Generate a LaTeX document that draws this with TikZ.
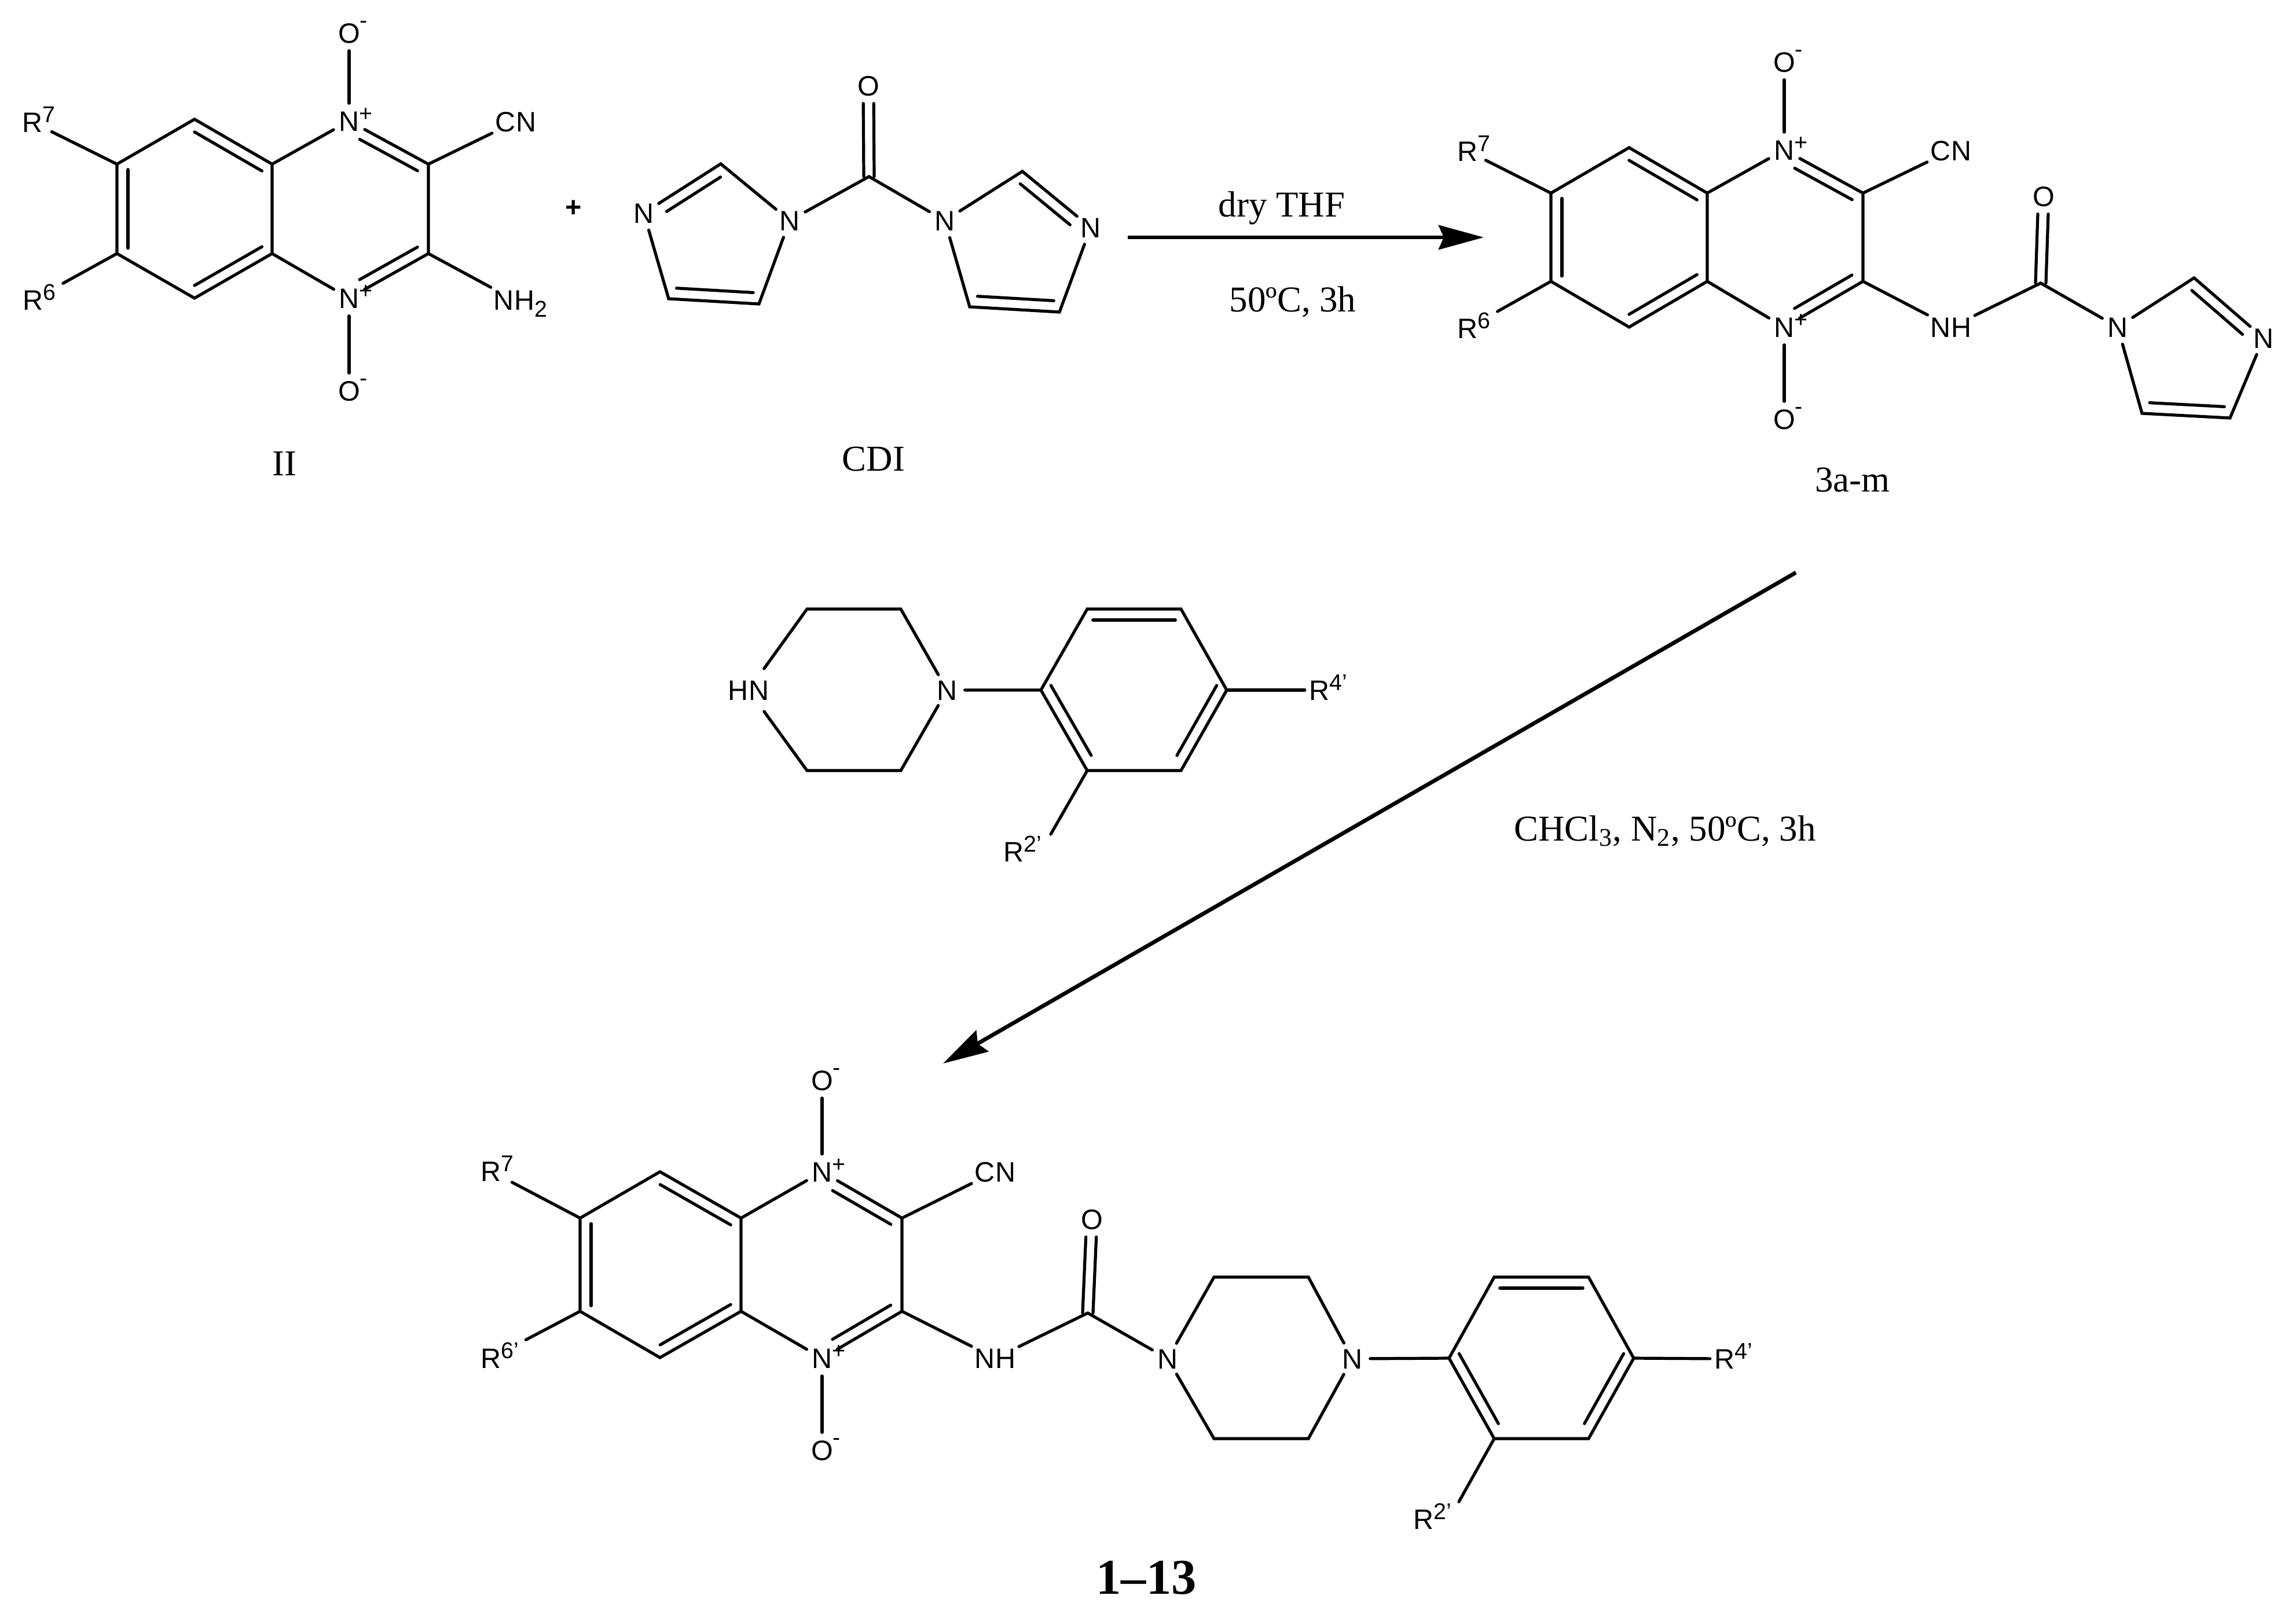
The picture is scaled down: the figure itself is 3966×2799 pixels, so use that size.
\documentclass[tikz,border=0pt]{standalone}
\usepackage{fontspec}
\setmainfont{Liberation Sans}
\newfontfamily\capfont{Liberation Serif}
\usetikzlibrary{arrows.meta,calc}

\newcommand{\chemsup}[1]{\rlap{\raisebox{4.8pt}{\fontsize{11.2}{12}\selectfont #1}}}
\newcommand{\chemsub}[1]{\rlap{\raisebox{-3.5pt}{\fontsize{11.2}{12}\selectfont #1}}}
\newcommand{\inbond}[4]{\draw[bond] ($(#1)!#3!(#2)!.19cm!-90:(#2)$) -- ($(#1)!#4!(#2)!.19cm!-90:(#2)$);}

\tikzset{
	atom/.style={circle,inner sep=0pt,minimum size=.6cm,text height=9.8pt,text depth=0pt,font=\fontsize{13.8}{15}\selectfont},
	atomw/.style={atom,minimum size=.9cm},
	rgroup/.style={atom,minimum size=.4cm},
	bond/.style={line width=.052cm,line cap=round},
	twinl/.style={bond,transform canvas={xshift=-.09cm}},
	twinr/.style={bond,transform canvas={xshift=.09cm}},
	reaction/.style={line width=.068cm,-{Stealth[length=.78cm,width=.42cm,inset=.09cm]}},
	caption/.style={anchor=base,inner sep=0pt,font=\capfont\fontsize{17.9}{20}\selectfont},
}

\begin{document}
\begin{tikzpicture}[x=.01cm,y=-.01cm]
\useasboundingbox (0,0) rectangle (3966,2799);

% II
\path (336,206) coordinate (ia) (202,283.5) coordinate (ib) (202,438) coordinate (ic) (336,515) coordinate (id)
	(470,283.5) coordinate (ie) (470,438) coordinate (if) (740,283.5) coordinate (ig) (740,438) coordinate (ih);
\node[atom] (in1) at (603,209) {N\chemsup{+}};
\node[atom] (in2) at (603,515) {N\chemsup{+}};
\node[atom] (io1) at (603,57) {O\chemsup{\raisebox{2.5pt}{-}}};
\node[atom] (io2) at (603,675) {O\chemsup{\raisebox{2.5pt}{-}}};
\node[atomw] (icn) at (891,210) {CN};
\node[atomw] (inh) at (888,518) {NH\chemsub{2}};
\node[rgroup] (ir7) at (56,211) {R\chemsup{7}};
\node[rgroup] (ir6) at (57,518) {R\chemsup{6}};
\draw[bond] (ie) -- (ia) -- (ib) -- (ic) -- (id) -- (if) -- cycle;
\draw[bond] (ie) -- (in1) -- (ig) -- (ih) -- (in2) -- (if);
\draw[bond] (in1) -- (io1);
\draw[bond] (in2) -- (io2);
\draw[bond] (ig) -- (icn);
\draw[bond] (ih) -- (inh);
\draw[bond,shorten >=.12cm] (ib) -- (ir7);
\draw[bond,shorten >=.34cm] (ic) -- (ir6);
\inbond{ia}{ie}{.07}{.94}
\inbond{if}{id}{.06}{.93}
\inbond{ic}{ib}{.06}{.94}
\inbond{in1}{ig}{.2}{.93}
\inbond{ih}{in2}{.07}{.8}
\node[caption] (lbii) at (491,821) {II};
\node[atom,font=\fontsize{13.8}{15}\selectfont\bfseries] (plus) at (991,357) {+};

% CDI
\path (1501,305) coordinate (cc) (1245,283) coordinate (c2) (1311,525) coordinate (c5) (1155,516) coordinate (c4)
	(1766,296) coordinate (d2) (1830,539) coordinate (d4) (1675,530) coordinate (d5);
\node[atom] (co) at (1500,148) {O};
\node[atom] (cn1) at (1364,381) {N};
\node[atom] (cn3) at (1112,368) {N};
\node[atom] (dn1) at (1632,381) {N};
\node[atom] (dn3) at (1884,393) {N};
\draw[twinl] (cc) -- (co);
\draw[twinr] (cc) -- (co);
\draw[bond] (cn1) -- (cc) -- (dn1);
\draw[bond] (cn1) -- (c2) -- (cn3) -- (c4) -- (c5) -- (cn1);
\draw[bond] (dn1) -- (d2) -- (dn3) -- (d4) -- (d5) -- (dn1);
\inbond{cn3}{c2}{.22}{.92}
\inbond{c5}{c4}{.07}{.92}
\inbond{d2}{dn3}{.07}{.8}
\inbond{d4}{d5}{.07}{.92}
\node[caption] (lbcdi) at (1509,813) {CDI};

% first arrow
\coordinate (ar1) at (1948,410);
\coordinate (ar2) at (2563,410);
\draw[reaction] (ar1) -- (ar2);
\node[caption] (lbthf) at (2214,374) {dry THF};
\node[caption] (lbtemp) at (2233,538) {50ºC, 3h};

% 3a-m
\path (2814,255) coordinate (ma) (2679,333.5) coordinate (mb) (2679,486) coordinate (mc) (2814,565) coordinate (md)
	(2949,333.5) coordinate (me) (2949,486) coordinate (mf) (3218,333.5) coordinate (mg) (3218,486) coordinate (mh)
	(3525,489) coordinate (mk) (3790,480) coordinate (m2) (3852,722) coordinate (m4) (3700,714) coordinate (m5);
\node[atom] (mn1) at (3082,259) {N\chemsup{+}};
\node[atom] (mn2) at (3082,565) {N\chemsup{+}};
\node[atom] (mo1) at (3082,107) {O\chemsup{\raisebox{2.5pt}{-}}};
\node[atom] (mo2) at (3082,724) {O\chemsup{\raisebox{2.5pt}{-}}};
\node[atomw] (mcn) at (3370,260) {CN};
\node[atomw] (mnh) at (3370,565) {NH};
\node[rgroup] (mr7) at (2535,261) {R\chemsup{7}};
\node[rgroup] (mr6) at (2535,567) {R\chemsup{6}};
\node[atom] (mo) at (3530,339) {O};
\node[atom] (mi1) at (3658,565) {N};
\node[atom] (mi3) at (3910,584) {N};
\draw[bond] (me) -- (ma) -- (mb) -- (mc) -- (md) -- (mf) -- cycle;
\draw[bond] (me) -- (mn1) -- (mg) -- (mh) -- (mn2) -- (mf);
\draw[bond] (mn1) -- (mo1);
\draw[bond] (mn2) -- (mo2);
\draw[bond] (mg) -- (mcn);
\draw[bond] (mh) -- (mnh) -- (mk) -- (mi1);
\draw[twinl] (mk) -- (mo);
\draw[twinr] (mk) -- (mo);
\draw[bond] (mi1) -- (m2) -- (mi3) -- (m4) -- (m5) -- (mi1);
\draw[bond,shorten >=.1cm] (mb) -- (mr7);
\draw[bond,shorten >=.34cm] (mc) -- (mr6);
\inbond{ma}{me}{.07}{.94}
\inbond{mf}{md}{.06}{.93}
\inbond{mc}{mb}{.06}{.94}
\inbond{mn1}{mg}{.2}{.93}
\inbond{mh}{mn2}{.07}{.8}
\inbond{m2}{mi3}{.07}{.8}
\inbond{m4}{m5}{.07}{.92}
\node[caption] (lbm) at (3200,849) {3a-m};

% second arrow
\coordinate (br1) at (3102,989);
\coordinate (br2) at (1629,1837);
\draw[reaction] (br1) -- (br2);
\node[caption] (lbcond) at (2876,1452) {CHCl\textsubscript{3}, N\textsubscript{2}, 50ºC, 3h};

% piperazine
\path (1394,1052) coordinate (p1) (1556,1052) coordinate (p2) (1394,1331) coordinate (p3) (1556,1331) coordinate (p4)
	(1798,1192) coordinate (b1) (1878,1052) coordinate (b2) (2040,1052) coordinate (b3) (2119,1192) coordinate (b4)
	(2040,1331) coordinate (b5) (1878,1331) coordinate (b6) (1815,1441) coordinate (pe2);
\node[atomw] (phn) at (1293,1192) {HN};
\node[atom] (pn) at (1636,1192) {N};
\node[rgroup] (pr4) at (2279,1192) {R\chemsup{4'}};
\node[rgroup] (pr2) at (1751,1471) {R\chemsup{2'}};
\draw[bond] (phn) -- (p1) -- (p2) -- (pn) -- (p4) -- (p3) -- (phn);
\draw[bond] (pn) -- (b1) -- (b2) -- (b3) -- (b4) -- (b5) -- (b6) -- (b1);
\draw[bond] (b4) -- (pr4);
\draw[bond] (b6) -- (pe2);
\inbond{b2}{b3}{.06}{.94}
\inbond{b4}{b5}{.01}{.88}
\inbond{b6}{b1}{.12}{.99}

% 1-13
\path (1140,2024) coordinate (fa) (1002,2104) coordinate (fb) (1002,2265) coordinate (fc) (1140,2345) coordinate (fd)
	(1280,2104) coordinate (fe) (1280,2265) coordinate (ff) (1558,2104) coordinate (fg) (1558,2265) coordinate (fh)
	(1879,2268) coordinate (fk)
	(2097,2206) coordinate (f1) (2260,2206) coordinate (f2) (2097,2485) coordinate (f3) (2260,2485) coordinate (f4)
	(2503,2346) coordinate (g1) (2581,2206) coordinate (g2) (2744,2206) coordinate (g3) (2822,2346) coordinate (g4)
	(2744,2485) coordinate (g5) (2581,2485) coordinate (g6) (2520,2594) coordinate (ge2);
\node[atom] (fn1) at (1420,2024) {N\chemsup{+}};
\node[atom] (fn2) at (1420,2346) {N\chemsup{+}};
\node[atom] (fo1) at (1420,1866) {O\chemsup{\raisebox{2.5pt}{-}}};
\node[atom] (fo2) at (1420,2505) {O\chemsup{\raisebox{2.5pt}{-}}};
\node[atomw] (fcn) at (1719,2024) {CN};
\node[atomw] (fnh) at (1719,2346) {NH};
\node[rgroup] (fr7) at (848,2023) {R\chemsup{7}};
\node[rgroup] (fr6) at (848,2346) {R\chemsup{6'}};
\node[atom] (fo) at (1886,2106) {O};
\node[atom] (fp1) at (2017,2347) {N};
\node[atom] (fp2) at (2336,2347) {N};
\node[rgroup] (fr4) at (2979,2347) {R\chemsup{4'}};
\node[rgroup] (fr2) at (2459,2624) {R\chemsup{2'}};
\draw[bond] (fe) -- (fa) -- (fb) -- (fc) -- (fd) -- (ff) -- cycle;
\draw[bond] (fe) -- (fn1) -- (fg) -- (fh) -- (fn2) -- (ff);
\draw[bond] (fn1) -- (fo1);
\draw[bond] (fn2) -- (fo2);
\draw[bond] (fg) -- (fcn);
\draw[bond] (fh) -- (fnh) -- (fk) -- (fp1);
\draw[twinl] (fk) -- (fo);
\draw[twinr] (fk) -- (fo);
\draw[bond] (fp1) -- (f1) -- (f2) -- (fp2) -- (f4) -- (f3) -- (fp1);
\draw[bond] (fp2) -- (g1) -- (g2) -- (g3) -- (g4) -- (g5) -- (g6) -- (g1);
\draw[bond] (g4) -- (fr4);
\draw[bond] (g6) -- (ge2);
\draw[bond,shorten >=.16cm] (fb) -- (fr7);
\draw[bond,shorten >=.43cm] (fc) -- (fr6);
\inbond{fa}{fe}{.07}{.94}
\inbond{ff}{fd}{.06}{.93}
\inbond{fc}{fb}{.06}{.94}
\inbond{fn1}{fg}{.2}{.93}
\inbond{fh}{fn2}{.07}{.8}
\inbond{g2}{g3}{.06}{.94}
\inbond{g4}{g5}{.01}{.88}
\inbond{g6}{g1}{.12}{.99}
\node[caption,font=\capfont\bfseries\fontsize{24.6}{28}\selectfont] (lbf) at (1980,2753) {1–13};

\end{tikzpicture}
\end{document}
